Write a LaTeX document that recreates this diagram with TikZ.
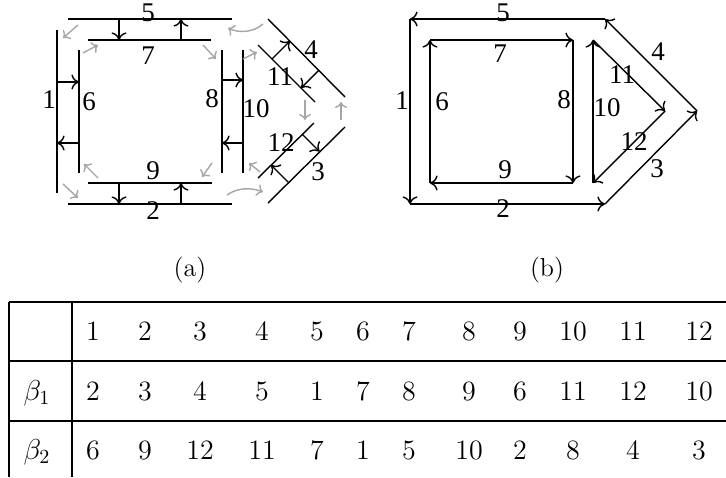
\documentclass[tikz,border=0pt]{standalone}
\usepackage{fontspec}
\newfontfamily\labfont{Liberation Serif}
\usetikzlibrary{arrows.meta}
\begin{document}
\begin{tikzpicture}[x=0.5pt,y=-0.5pt,
  edge/.style={line width=0.7pt},
  dart/.style={line width=0.7pt,-{Computer Modern Rightarrow[length=3.8pt,width=7.5pt]}},
  gdart/.style={line width=0.7pt,draw=black!35,-{Computer Modern Rightarrow[length=3pt,width=6pt]}},
  lab/.style={inner sep=0pt,font=\fontsize{13.5}{16}\selectfont\labfont},
  tab/.style={anchor=base,inner sep=0pt,font=\fontsize{14}{17}\selectfont},
  tabrule/.style={line width=1pt},
  captlabel/.style={inner sep=0pt,font=\fontsize{13}{16}\selectfont}]
\useasboundingbox (0,0) rectangle (726,477);
% ---------- (a) ----------
\coordinate (a5s) at (68,19);   \coordinate (a5e) at (232,19);
\coordinate (a7s) at (88,40);   \coordinate (a7e) at (211,40);
\coordinate (a1s) at (57,30);   \coordinate (a1e) at (57,193);
\coordinate (a6s) at (79,50);   \coordinate (a6e) at (79,173);
\coordinate (a9s) at (88,183);  \coordinate (a9e) at (212,183);
\coordinate (a2s) at (68,204);  \coordinate (a2e) at (232,204);
\coordinate (a8s) at (222,50);  \coordinate (a8e) at (222,173);
\coordinate (a10s) at (243,50); \coordinate (a10e) at (243,173);
\coordinate (a4s) at (268,19);  \coordinate (a4e) at (345,97);
\coordinate (a11s) at (258,45); \coordinate (a11e) at (315,102);
\coordinate (a12s) at (258,178);\coordinate (a12e) at (314,123);
\coordinate (a3s) at (268,203); \coordinate (a3e) at (345,127);
\foreach \n in {5,7,1,6,9,2,8,10,4,11,12,3}{\draw[edge] (a\n s) -- (a\n e);}
% black darts between paired lines
\coordinate (p1) at (119,19);  \coordinate (q1) at (119,40);
\coordinate (p2) at (181,40);  \coordinate (q2) at (181,19);
\coordinate (p3) at (119,183); \coordinate (q3) at (119,204);
\coordinate (p4) at (181,204); \coordinate (q4) at (181,183);
\coordinate (p5) at (57,82);   \coordinate (q5) at (79,82);
\coordinate (p6) at (79,143);  \coordinate (q6) at (57,143);
\coordinate (p7) at (222,80);  \coordinate (q7) at (243,80);
\coordinate (p8) at (243,143); \coordinate (q8) at (222,143);
\coordinate (p9) at (272,59);  \coordinate (q9) at (290,41);
\coordinate (p10) at (319,70); \coordinate (q10) at (301,88);
\coordinate (p11) at (302,134);\coordinate (q11) at (319.5,151.5);
\coordinate (p12) at (288.5,182.5); \coordinate (q12) at (271,165);
\foreach \i in {1,...,12}{\draw[dart] (p\i) -- (q\i);}
% gray darts
\coordinate (g1s) at (78,25);   \coordinate (g1e) at (63,38);
\coordinate (g2s) at (83,53);   \coordinate (g2e) at (98,45);
\coordinate (g3s) at (98,178);  \coordinate (g3e) at (84,164);
\coordinate (g4s) at (63,184);  \coordinate (g4e) at (78,198);
\coordinate (g5s) at (203,45);  \coordinate (g5e) at (216,59);
\coordinate (g6s) at (212,163); \coordinate (g6e) at (202,177);
\coordinate (g9s) at (243,59);  \coordinate (g9e) at (257,52);
\coordinate (g10s) at (260,172);\coordinate (g10e) at (249,163);
\coordinate (g11s) at (305,100);\coordinate (g11e) at (305,120);
\coordinate (g12s) at (341,120);\coordinate (g12e) at (341,102);
\foreach \i in {1,2,3,4,5,6,9,10,11,12}{\draw[gdart] (g\i s) -- (g\i e);}
\coordinate (g7s) at (263,24);  \coordinate (g7e) at (228,28);
\coordinate (g8s) at (227,195); \coordinate (g8e) at (263,192);
\draw[gdart] (g7s) .. controls (253,33) and (238,33) .. (g7e);
\draw[gdart] (g8s) .. controls (237,188) and (250,187) .. (g8e);
% labels (a)
\node[lab] (la5) at (148,13) {5};
\node[lab] (la7) at (148,56) {7};
\node[lab] (la1) at (49,100) {1};
\node[lab] (la6) at (89,102) {6};
\node[lab] (la8) at (212,99) {8};
\node[lab] (la10) at (256,109) {10};
\node[lab] (la4) at (311,50) {4};
\node[lab] (la11) at (280,77) {11};
\node[lab] (la12) at (281,143) {12};
\node[lab] (la3) at (318,172) {3};
\node[lab] (la9) at (153,171) {9};
\node[lab] (la2) at (153,211) {2};
% ---------- (b) ----------
\coordinate (btl) at (410,19);  \coordinate (btr) at (605,19);
\coordinate (br) at (697,111);  \coordinate (bbr) at (605,204);
\coordinate (bbl) at (410,204);
\coordinate (stl) at (430,40);  \coordinate (str) at (573,40);
\coordinate (sbr) at (573,183); \coordinate (sbl) at (430,183);
\coordinate (tt) at (593,40);   \coordinate (tr) at (665,111);
\coordinate (tb) at (593,183);
\draw[dart] (btl) -- (bbl);
\draw[dart] (bbl) -- (bbr);
\draw[dart] (bbr) -- (br);
\draw[dart] (br) -- (btr);
\draw[dart] (btr) -- (btl);
\draw[dart] (sbl) -- (stl);
\draw[dart] (stl) -- (str);
\draw[dart] (str) -- (sbr);
\draw[dart] (sbr) -- (sbl);
\draw[dart] (tb) -- (tt);
\draw[dart] (tt) -- (tr);
\draw[dart] (tr) -- (tb);
\node[lab] (lb5) at (503,13) {5};
\node[lab] (lb7) at (500,54) {7};
\node[lab] (lb1) at (402,101) {1};
\node[lab] (lb6) at (442,102) {6};
\node[lab] (lb8) at (564,100) {8};
\node[lab] (lb10) at (607,108) {10};
\node[lab] (lb11) at (622,75) {11};
\node[lab] (lb4) at (658,52) {4};
\node[lab] (lb12) at (634,142) {12};
\node[lab] (lb3) at (657,169) {3};
\node[lab] (lb9) at (505,170) {9};
\node[lab] (lb2) at (503,209) {2};
% captions
\node[captlabel] (capa) at (190,270) {(a)};
\node[captlabel] (capb) at (547,270) {(b)};
% ---------- table ----------
\draw[tabrule] (9,302) -- (726,302);
\draw[tabrule] (9,361) -- (726,361);
\draw[tabrule] (9,421) -- (726,421);
\draw[tabrule] (9,302) -- (9,477);
\draw[tabrule] (72,302) -- (72,477);
\node[tab] (beta1) at (37,400) {$\beta_1$};
\node[tab] (beta2) at (37,459) {$\beta_2$};
\foreach \x/\a/\b/\c [count=\k] in {93/1/2/6,145/2/3/9,200/3/4/12,262/4/5/11,317/5/1/7,363/6/7/1,409/7/8/5,469/8/9/10,520/9/6/2,573/10/11/8,633/11/12/4,699/12/10/3}{
  \node[tab] (h\k) at (\x,340) {\a};
  \node[tab] (r\k) at (\x,400) {\b};
  \node[tab] (s\k) at (\x,459) {\c};
}
\end{tikzpicture}
\end{document}
